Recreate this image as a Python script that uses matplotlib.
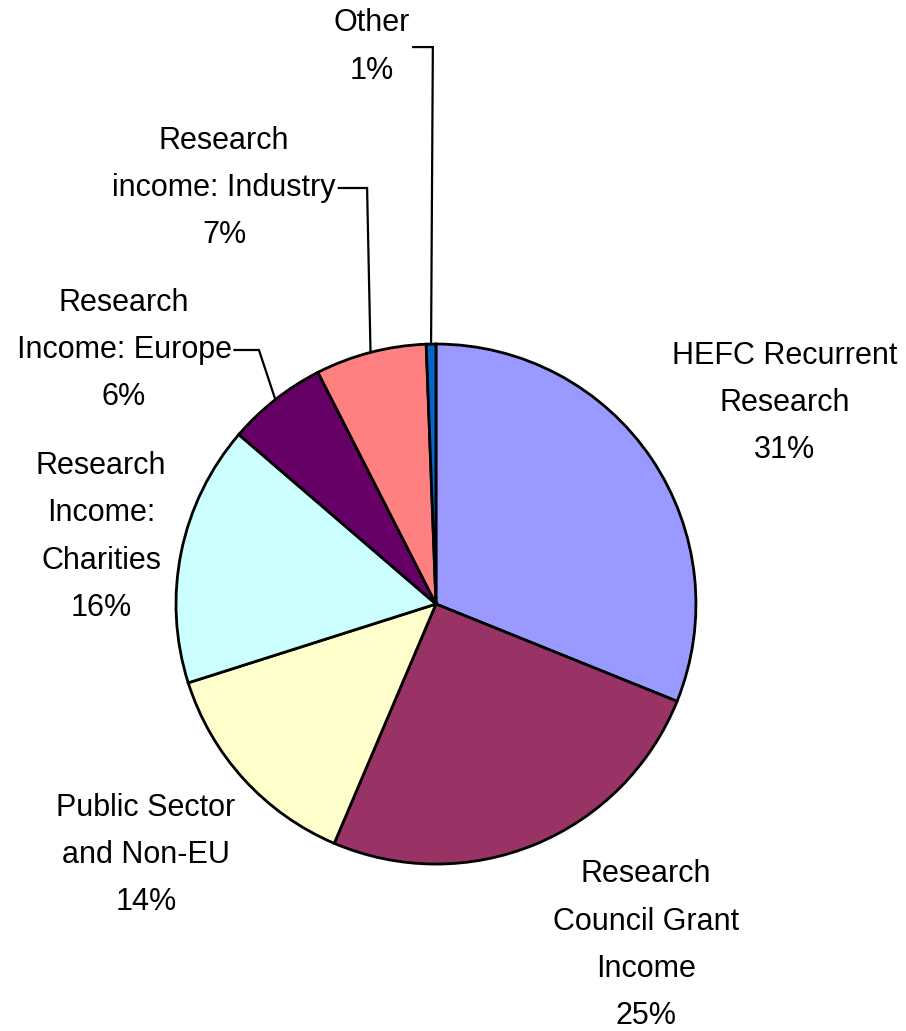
import matplotlib
matplotlib.use("Agg")
import matplotlib.pyplot as plt
import numpy as np

plt.rcParams["font.family"] = ["Liberation Sans", "DejaVu Sans"]

# slice data, clockwise from 12 o'clock
categories = [
    "HEFC Recurrent\nResearch",
    "Research\nCouncil Grant\nIncome",
    "Public Sector\nand Non-EU",
    "Research\nIncome:\nCharities",
    "Research\nIncome: Europe",
    "Research\nincome: Industry",
    "Other",
]
shares = [31.1, 25.3, 13.7, 16.2, 6.2, 6.9, 0.6]
pct_labels = ["31%", "25%", "14%", "16%", "6%", "7%", "1%"]
colors = ["#9999FF", "#993366", "#FFFFCC", "#CCFFFF", "#660066", "#FF8080", "#0066CC"]

# label centres (pie radius = 1) and which ones get a leader line
label_pos = [(1.342, 0.773), (0.808, -1.312), (-1.115, -0.965), (-1.288, 0.258),
             (-1.20, 0.977), (-0.815, 1.60), (-0.246, 2.142)]
leader_knee = [None, None, None, None, -0.681, -0.265, -0.012]

fig = plt.figure(figsize=(9.06, 10.31), dpi=100)
ax = fig.add_axes([0, 0, 1, 1])

wedges, _ = ax.pie(shares, colors=colors, startangle=90, counterclock=False,
                   radius=1.0, wedgeprops=dict(edgecolor="black", linewidth=2.0))

ax.set_xlim(-1.677, 1.808)
ax.set_ylim(-1.642, 2.323)
ax.set_aspect("auto")
ax.axis("off")

texts = []
for cat, pct, (x, y) in zip(categories, pct_labels, label_pos):
    t = ax.text(x, y, cat + "\n" + pct, ha="center", va="center",
                multialignment="center", fontsize=22, linespacing=1.75)
    texts.append(t)

fig.canvas.draw()
inv = ax.transData.inverted()
for t, w, knee, (x, y) in zip(texts, wedges, leader_knee, label_pos):
    if knee is None:
        continue
    bb = t.get_window_extent()
    x_end = inv.transform((bb.x1 + 3, 0))[0]
    mid = np.deg2rad((w.theta1 + w.theta2) / 2)
    ex, ey = np.cos(mid), np.sin(mid)
    ax.plot([x_end, knee, ex], [y, y, ey], color="black", lw=1.6,
            solid_joinstyle="miter")

fig.savefig("out.png", dpi=100)
